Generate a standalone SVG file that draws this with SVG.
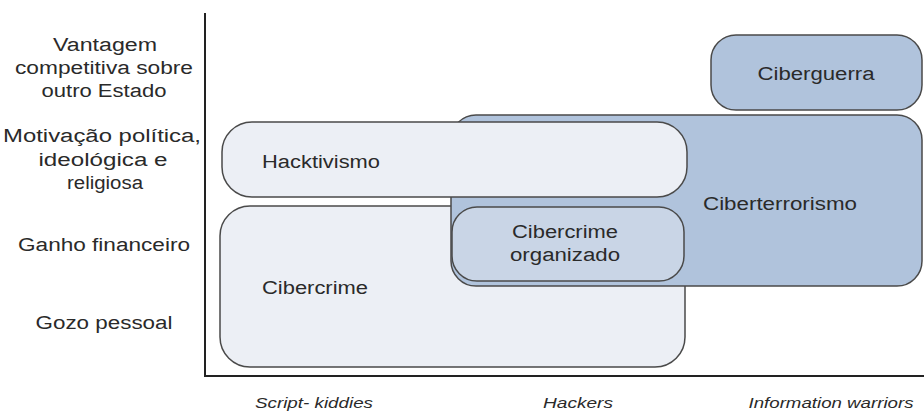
<svg xmlns="http://www.w3.org/2000/svg" width="924" height="411" viewBox="0 0 924 411">
  <style>
    text { font-family: "Liberation Sans", Arial, Helvetica, sans-serif; fill: #2a2a2a; }
    .lbl { font-size: 18px; }
    .ax { font-size: 18px; text-anchor: middle; }
    .cat { font-size: 15px; font-style: italic; text-anchor: middle; }
    .box { stroke: #4a4a4a; stroke-width: 1.5; }
    .light { fill: #eceff5; }
    .blue { fill: #b0c3dc; }
    .mid { fill: #c9d5e6; }
    .axis { stroke: #222; stroke-width: 2; fill: none; }
  </style>
  <rect width="924" height="411" fill="#ffffff"/>

  <!-- axes -->
  <g id="axes">
    <line class="axis" x1="205" y1="13" x2="205" y2="376"/>
    <line class="axis" x1="204" y1="376" x2="924" y2="376"/>
  </g>

  <!-- motivation labels (vertical axis) -->
  <g id="motivations">
    <text class="ax" x="105" y="51" textLength="104" lengthAdjust="spacingAndGlyphs">Vantagem</text>
    <text class="ax" x="104" y="74" textLength="178" lengthAdjust="spacingAndGlyphs">competitiva sobre</text>
    <text class="ax" x="104" y="97" textLength="125" lengthAdjust="spacingAndGlyphs">outro Estado</text>
    <text class="ax" x="102" y="142" textLength="198" lengthAdjust="spacingAndGlyphs">Motivação política,</text>
    <text class="ax" x="103" y="166" textLength="129" lengthAdjust="spacingAndGlyphs">ideológica e</text>
    <text class="ax" x="105" y="189" textLength="76" lengthAdjust="spacingAndGlyphs">religiosa</text>
    <text class="ax" x="104" y="251" textLength="172" lengthAdjust="spacingAndGlyphs">Ganho financeiro</text>
    <text class="ax" x="104" y="329" textLength="137" lengthAdjust="spacingAndGlyphs">Gozo pessoal</text>
  </g>

  <!-- actor labels (horizontal axis) -->
  <g id="actors">
    <text class="cat" x="314" y="408" textLength="118" lengthAdjust="spacingAndGlyphs">Script- kiddies</text>
    <text class="cat" x="578" y="408" textLength="70" lengthAdjust="spacingAndGlyphs">Hackers</text>
    <text class="cat" x="831" y="408" textLength="165" lengthAdjust="spacingAndGlyphs">Information warriors</text>
  </g>

  <g id="cibercrime">
    <rect class="box light" x="220" y="206" width="465" height="161" rx="30" ry="30"/>
    <text class="lbl" x="262" y="294" textLength="106" lengthAdjust="spacingAndGlyphs">Cibercrime</text>
  </g>

  <g id="ciberterrorismo">
    <rect class="box blue" x="451" y="115" width="471" height="171" rx="25" ry="25"/>
    <text class="lbl" x="780" y="210" text-anchor="middle" textLength="154" lengthAdjust="spacingAndGlyphs">Ciberterrorismo</text>
  </g>

  <g id="hacktivismo">
    <rect class="box light" x="222" y="122" width="465" height="75" rx="30" ry="30"/>
    <text class="lbl" x="262" y="168" textLength="118" lengthAdjust="spacingAndGlyphs">Hacktivismo</text>
  </g>

  <g id="cibercrime-organizado">
    <rect class="box mid" x="452" y="207" width="232" height="74" rx="25" ry="25"/>
    <text class="lbl" x="565" y="238" text-anchor="middle" textLength="106" lengthAdjust="spacingAndGlyphs">Cibercrime</text>
    <text class="lbl" x="565" y="261" text-anchor="middle" textLength="110" lengthAdjust="spacingAndGlyphs">organizado</text>
  </g>

  <g id="ciberguerra">
    <rect class="box blue" x="711" y="35" width="211" height="75" rx="25" ry="25"/>
    <text class="lbl" x="816" y="80" text-anchor="middle" textLength="117" lengthAdjust="spacingAndGlyphs">Ciberguerra</text>
  </g>

  <g id="connectors"></g>
</svg>
